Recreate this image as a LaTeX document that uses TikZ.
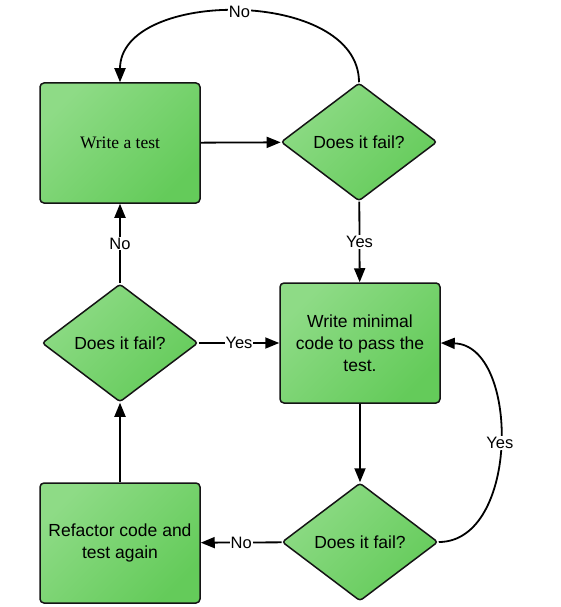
\documentclass[tikz,border=0pt]{standalone}
\usepackage{fontspec}
\setmainfont{Liberation Sans}
\newfontfamily\seriffont{Liberation Serif}
\usepackage{tikz}
\usetikzlibrary{shapes.geometric,arrows.meta}

\definecolor{greenlight}{RGB}{142,219,134}
\definecolor{greendark}{RGB}{100,203,90}
\definecolor{edgegrey}{RGB}{20,20,20}

\tikzset{
    stepbox/.style={rectangle,rounded corners=4pt,draw=edgegrey,line width=1.5pt,
        top color=greenlight,bottom color=greendark,shading angle=45,
        minimum width=160pt,minimum height=120pt,align=center,
        inner sep=2pt,font=\fontsize{17.5}{22}\selectfont},
    question/.style={diamond,rounded corners=3pt,draw=edgegrey,line width=1.5pt,
        top color=greenlight,bottom color=greendark,shading angle=45,
        minimum width=156pt,minimum height=118pt,inner sep=0pt,
        font=\fontsize{17.5}{22}\selectfont},
    flow/.style={line width=1.8pt,-{Triangle[length=14pt,width=11pt]}},
    answer/.style={fill=white,inner sep=1pt,font=\fontsize{16.5}{20}\selectfont}
}

\begin{document}
\begin{tikzpicture}[x=1pt,y=-1pt]
        \useasboundingbox (0,0) rectangle (560,607);
        \node[stepbox] (test) at (120,143) {\seriffont Write a test};
        \node[question] (failA) at (359,142) {Does it fail?};
        \node[stepbox] (code) at (360,343) {Write minimal\\code to pass the\\test.};
        \node[question] (failB) at (360,542) {Does it fail?};
        \node[question] (failC) at (120,343) {Does it fail?};
        \node[stepbox] (refactor) at (120,543) {Refactor code and\\test again};
        \draw[flow] (test) -- (failA);
        \draw[flow] (failA.north) .. controls (359,-12) and (120,-12)
            .. node[answer] {No} (test.north);
        \draw[flow] (failA) -- node[answer] {Yes} (code);
        \draw[flow] (code) -- (failB);
        \draw[flow] (failB) -- node[answer] {No} (refactor);
        \draw[flow] (failB.east) .. controls (520,542) and (520,345)
            .. node[answer] {Yes} (code.east);
        \draw[flow] (refactor) -- (failC);
        \draw[flow] (failC) -- node[answer] {Yes} (code);
        \draw[flow] (failC) -- node[answer] {No} (test);
    \end{tikzpicture}
\end{document}
